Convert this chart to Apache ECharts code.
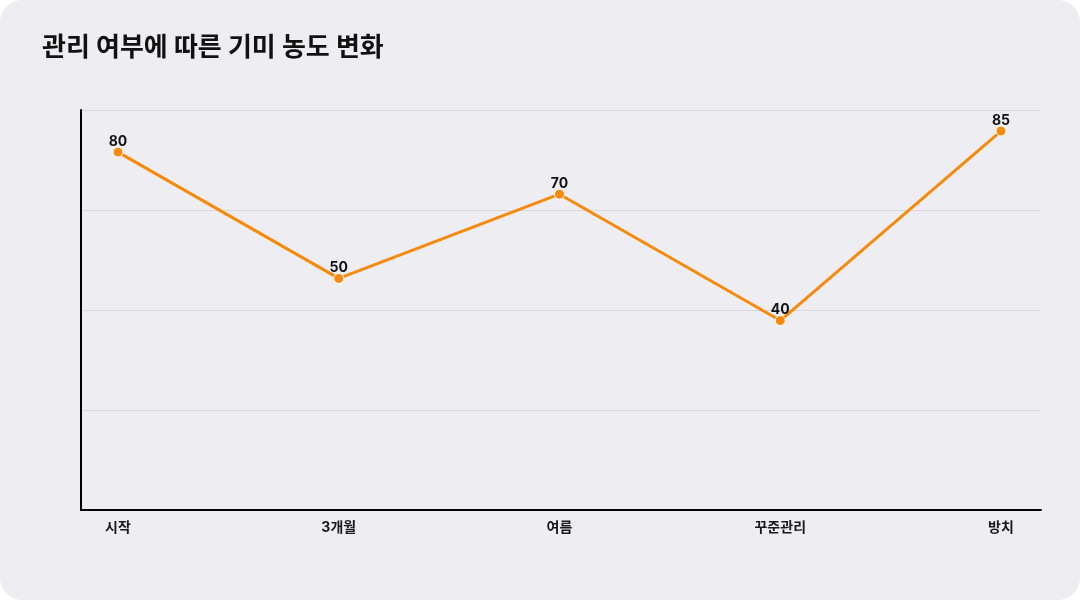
<!DOCTYPE html>
<html>
<head>
<meta charset="utf-8">
<script src="https://cdn.jsdelivr.net/npm/echarts@6/dist/echarts.min.js"></script>
<style>
  html, body { margin: 0; padding: 0; background: #ffffff; }
  #chart { width: 1080px; height: 600px; background: #eeedf2; border-radius: 22px; overflow: hidden; }
</style>
</head>
<body>
<div id="chart"></div>
<script>
// 데이터
var categories = ['시작', '3개월', '여름', '꾸준관리', '방치'];
var moldLevel = [80, 50, 70, 40, 85];

var yMin = -5, yMax = 90;
var font = 'Inter, "Noto Sans CJK KR", "Noto Sans", sans-serif';

var myChart = echarts.init(document.getElementById('chart'));

var option = {
  backgroundColor: 'transparent',
  animation: false,
  title: {
    text: '관리 여부에 따른 기미 농도 변화',
    left: 37,
    top: 30,
    textStyle: { fontFamily: font, fontSize: 26, fontWeight: 'bold', color: '#111' }
  },
  grid: [
    // 틀 (축선, 보조선)
    { left: 81, right: 39, top: 110, bottom: 90 },
    // 데이터
    { left: 118, right: 79, top: 110, bottom: 90 }
  ],
  xAxis: [
    {
      gridIndex: 0,
      type: 'category',
      data: categories,
      axisLine: { onZero: false, lineStyle: { color: '#000', width: 2 } },
      axisTick: { show: false },
      axisLabel: { show: false }
    },
    {
      gridIndex: 1,
      type: 'category',
      boundaryGap: false,
      data: categories,
      axisLine: { show: false },
      axisTick: { show: false },
      axisLabel: {
        margin: 11,
        fontFamily: font,
        fontSize: 14,
        fontWeight: 'bold',
        color: '#1a1a1a'
      }
    }
  ],
  yAxis: [
    {
      gridIndex: 0,
      type: 'value',
      min: yMin,
      max: yMax,
      interval: (yMax - yMin) / 4,
      axisLine: { show: true, onZero: false, lineStyle: { color: '#000', width: 2 } },
      axisTick: { show: false },
      axisLabel: { show: false },
      splitLine: { lineStyle: { color: '#d8d7dc', width: 1 } }
    },
    {
      gridIndex: 1,
      type: 'value',
      min: yMin,
      max: yMax,
      axisLine: { show: false },
      axisTick: { show: false },
      axisLabel: { show: false },
      splitLine: { show: false }
    }
  ],
  series: [{
    name: '기미 농도',
    type: 'line',
    xAxisIndex: 1,
    yAxisIndex: 1,
    data: moldLevel,
    symbol: 'circle',
    symbolSize: 10,
    lineStyle: { color: '#f58a0c', width: 3 },
    itemStyle: { color: '#f58a0c', borderColor: '#ffffff', borderWidth: 1 },
    label: {
      show: true,
      position: 'top',
      distance: -2,
      fontFamily: font,
      fontSize: 14,
      fontWeight: 'bold',
      color: '#111'
    },
    z: 3
  }]
};

myChart.setOption(option);
</script>
</body>
</html>
